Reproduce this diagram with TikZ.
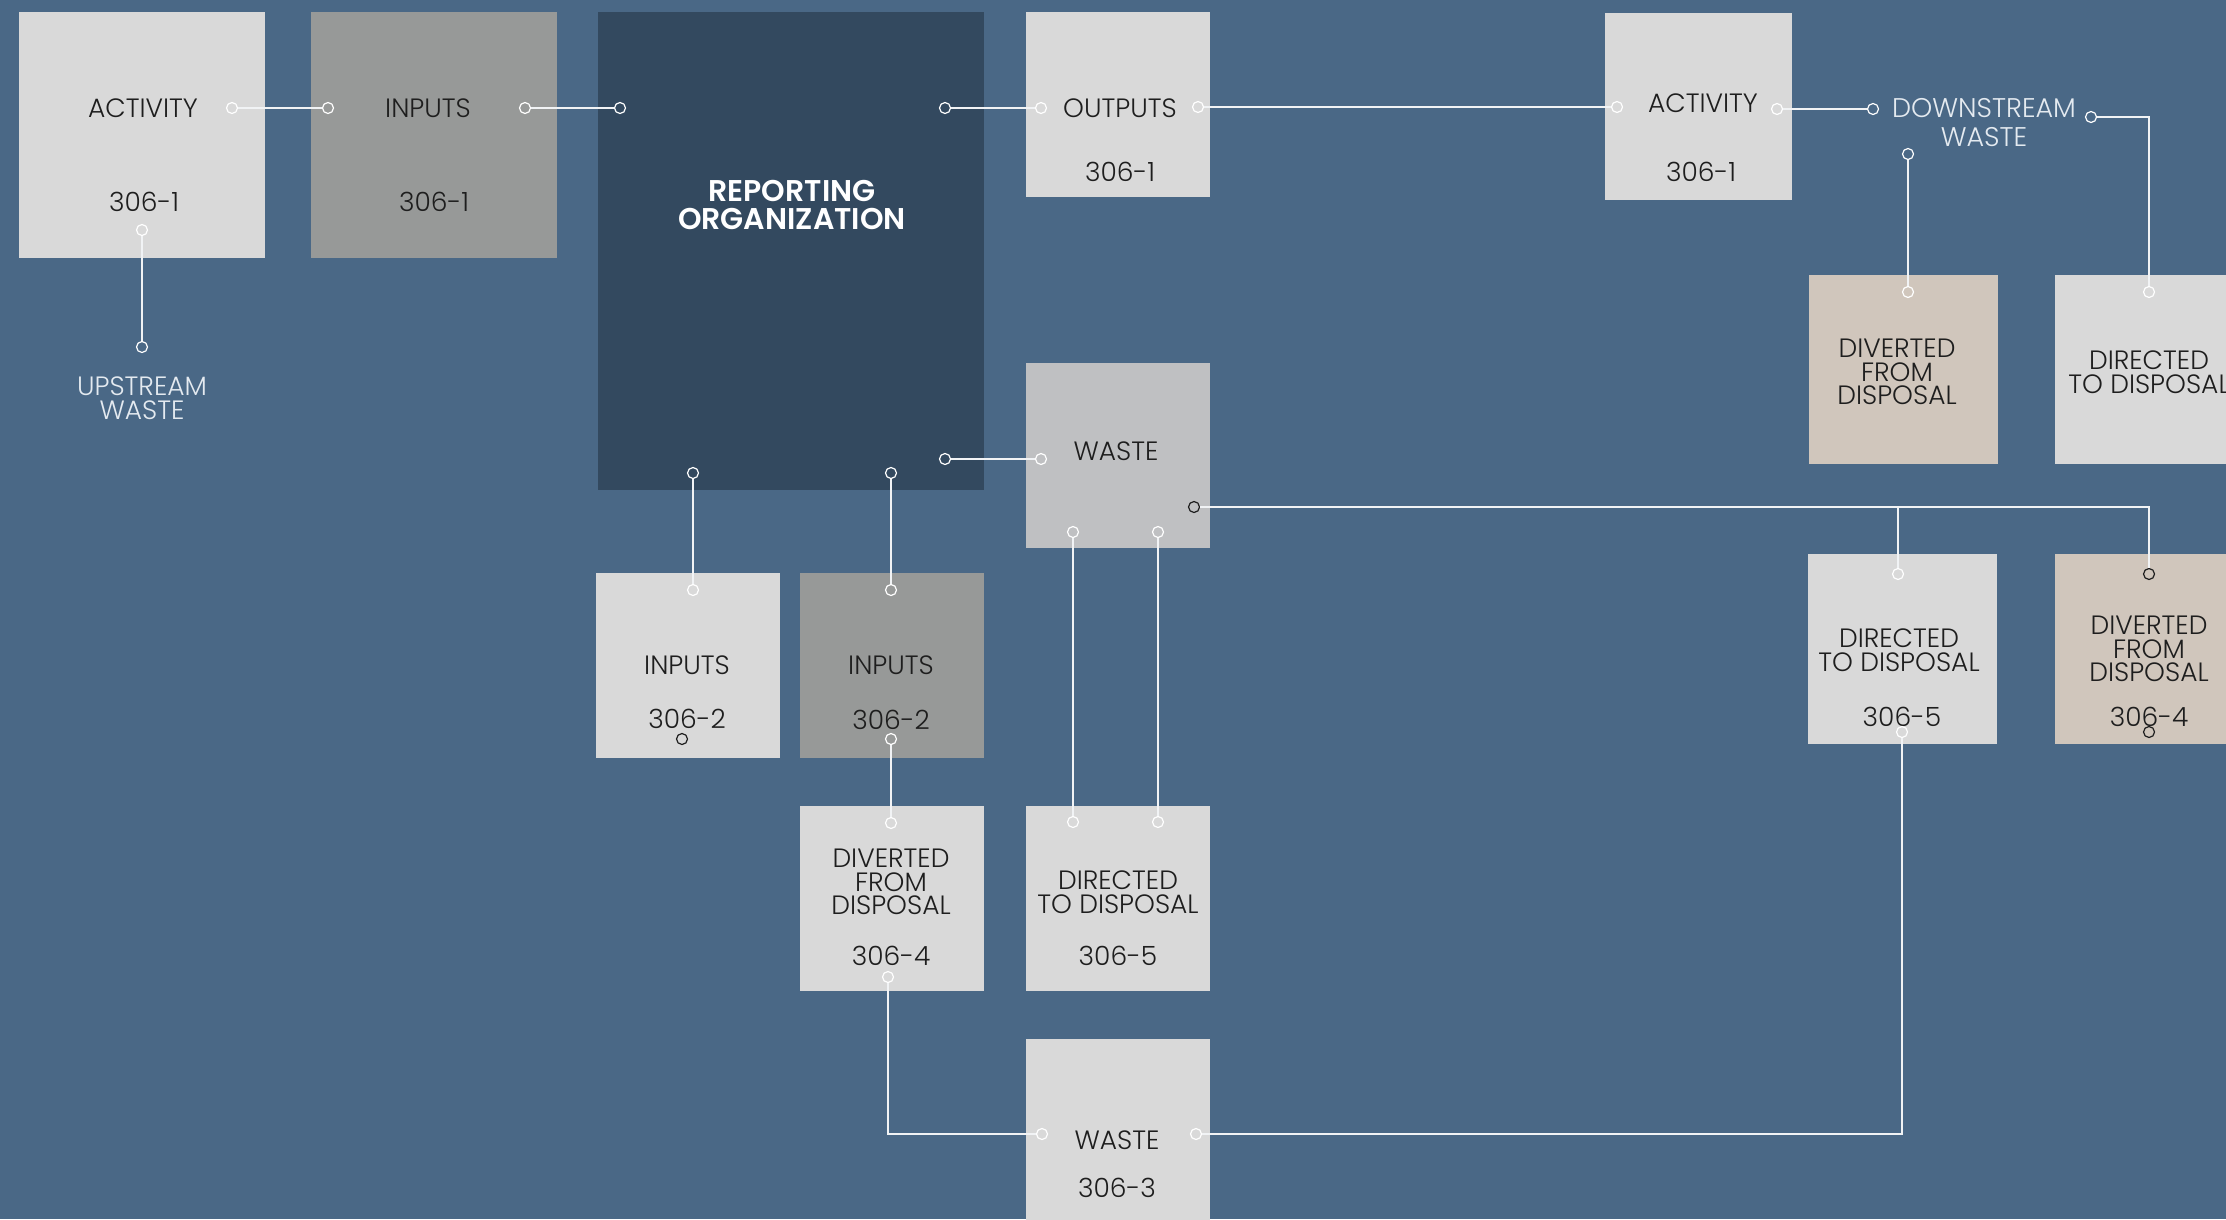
\documentclass[tikz,border=0pt]{standalone}
\usepackage{fontspec}
\setmainfont{Poppins}[UprightFont=* Light, BoldFont=* SemiBold]
\usepackage{xcolor}
\usetikzlibrary{arrows}
\definecolor{bg}{RGB}{74,104,134}
\definecolor{orgc}{RGB}{51,73,95}
\definecolor{light}{RGB}{217,217,217}
\definecolor{grey}{RGB}{151,153,152}
\definecolor{wastec}{RGB}{191,192,194}
\definecolor{beige}{RGB}{208,198,188}
\definecolor{ink}{RGB}{30,30,30}
\definecolor{pale}{RGB}{228,234,240}

\newcommand{\panel}[6]{\node[box, fill=#2, minimum width={#5-#3}, minimum height={#6-#4}, anchor=north west] (#1) at (#3,#4) {};}

\begin{document}
\begin{tikzpicture}[x=1pt, y=-1pt,
    box/.style={rectangle, inner sep=0pt, outer sep=0pt},
    txt/.style={inner sep=0pt, align=center, text=ink, font=\fontsize{26.5}{23.5}\selectfont},
    ptxt/.style={txt, text=pale},
    port/.style={circle, draw=white, line width=1.2pt, inner sep=0pt, minimum size=11pt},
    dport/.style={port, draw=ink},
    wire/.style={draw=white!92!bg, line width=1.2pt}]
    \fill[bg] (0,0) rectangle (2226,1219);
    \useasboundingbox (0,0) rectangle (2226,1219);

    \panel{act1}{light}{19}{12}{265}{258}
    \panel{inp1}{grey}{311}{12}{557}{258}
    \panel{org}{orgc}{598}{12}{984}{490}
    \panel{out1}{light}{1026}{12}{1210}{197}
    \panel{wst}{wastec}{1026}{363}{1210}{548}
    \panel{inp2a}{light}{596}{573}{780}{758}
    \panel{inp2b}{grey}{800}{573}{984}{758}
    \panel{div4}{light}{800}{806}{984}{991}
    \panel{dir5}{light}{1026}{806}{1210}{991}
    \panel{wst3}{light}{1026}{1039}{1210}{1225}
    \panel{act2}{light}{1605}{13}{1792}{200}
    \panel{divd}{beige}{1809}{275}{1998}{464}
    \panel{dird}{light}{2055}{275}{2244}{464}
    \panel{dir5b}{light}{1808}{554}{1997}{744}
    \panel{div4b}{beige}{2055}{554}{2244}{744}

    \node[txt] (act1a) at (143,108) {ACTIVITY};
    \node[txt] (act1b) at (144,202) {306-1};
    \node[txt] (inp1a) at (428,108) {INPUTS};
    \node[txt] (inp1b) at (434,202) {306-1};
    \node[txt, text=white, font=\fontsize{30}{28.5}\selectfont\bfseries] (orga) at (792,205) {REPORTING\\ORGANIZATION};
    \node[txt] (out1a) at (1120,108) {OUTPUTS};
    \node[txt] (out1b) at (1120,172) {306-1};
    \node[txt] (wsta) at (1116,451) {WASTE};
    \node[txt] (inp2aa) at (687,665) {INPUTS};
    \node[txt] (inp2ab) at (687,719) {306-2};
    \node[txt] (inp2ba) at (891,665) {INPUTS};
    \node[txt] (inp2bb) at (891,720) {306-2};
    \node[txt] (div4a) at (891,882) {DIVERTED\\FROM\\DISPOSAL};
    \node[txt] (div4n) at (891,956) {306-4};
    \node[txt] (dir5a) at (1118,892) {DIRECTED\\TO DISPOSAL};
    \node[txt] (dir5n) at (1118,956) {306-5};
    \node[txt] (wst3a) at (1117,1140) {WASTE};
    \node[txt] (wst3b) at (1117,1188) {306-3};
    \node[txt] (act2a) at (1703,103) {ACTIVITY};
    \node[txt] (act2b) at (1701,172) {306-1};
    \node[ptxt, font=\fontsize{27}{29}\selectfont] (dstxt) at (1984,123) {DOWNSTREAM\\WASTE};
    \node[ptxt] (uptxt) at (142,398) {UPSTREAM\\WASTE};
    \node[txt] (divda) at (1897,372) {DIVERTED\\FROM\\DISPOSAL};
    \node[txt] (dirda) at (2149,372) {DIRECTED\\TO DISPOSAL};
    \node[txt] (dir5ba) at (1899,650) {DIRECTED\\TO DISPOSAL};
    \node[txt] (dir5bn) at (1902,717) {306-5};
    \node[txt] (div4ba) at (2149,649) {DIVERTED\\FROM\\DISPOSAL};
    \node[txt] (div4bn) at (2149,717) {306-4};

    \node[port] (a1r) at (232,108) {};
    \node[port] (a1b) at (142,230) {};
    \node[port] (upt) at (142,347) {};
    \node[port] (i1l) at (328,108) {};
    \node[port] (i1r) at (525,108) {};
    \node[port] (orgl) at (620,108) {};
    \node[port] (orgr) at (945,108) {};
    \node[port] (orgw) at (945,459) {};
    \node[port] (orgb1) at (693,473) {};
    \node[port] (orgb2) at (891,473) {};
    \node[port] (o1l) at (1041,108) {};
    \node[port] (o1r) at (1198,107) {};
    \node[port] (wl) at (1041,459) {};
    \node[dport] (wr) at (1194,507) {};
    \node[port] (wb1) at (1073,532) {};
    \node[port] (wb2) at (1158,532) {};
    \node[port] (i2at) at (693,590) {};
    \node[dport] (i2ab) at (682,739) {};
    \node[port] (i2bt) at (891,590) {};
    \node[port] (i2bb) at (891,739) {};
    \node[port] (d4t) at (891,823) {};
    \node[port] (d4b) at (888,977) {};
    \node[port] (d5t1) at (1073,822) {};
    \node[port] (d5t2) at (1158,822) {};
    \node[port] (w3l) at (1042,1134) {};
    \node[port] (w3r) at (1196,1134) {};
    \node[port] (a2l) at (1617,107) {};
    \node[port] (a2r) at (1777,109) {};
    \node[port] (dsl) at (1873,109) {};
    \node[port] (dsb) at (1908,154) {};
    \node[port] (dsr) at (2091,117) {};
    \node[port] (ddvt) at (1908,292) {};
    \node[port] (ddrt) at (2149,292) {};
    \node[port] (d5bt) at (1898,574) {};
    \node[port] (d5bb) at (1902,732) {};
    \node[dport] (d4bt) at (2149,574) {};
    \node[dport] (d4bb) at (2149,732) {};
    \coordinate (jn) at (d5bt |- wr);

    \draw[wire] (a1r) -- (i1l);
    \draw[wire] (i1r) -- (orgl);
    \draw[wire] (orgr) -- (o1l);
    \draw[wire] (o1r) -- (a2l);
    \draw[wire] (a2r) -- (dsl);
    \draw[wire] (a1b) -- (upt);
    \draw[wire] (orgw) -- (wl);
    \draw[wire] (orgb1) -- (i2at);
    \draw[wire] (orgb2) -- (i2bt);
    \draw[wire] (i2bb) -- (d4t);
    \draw[wire] (wb1) -- (d5t1);
    \draw[wire] (wb2) -- (d5t2);
    \draw[wire] (d4b) |- (w3l);
    \draw[wire] (w3r) -| (d5bb);
    \draw[wire] (wr) -| (d4bt);
    \draw[wire] (jn) -- (d5bt);
    \draw[wire] (dsb) -- (ddvt);
    \draw[wire] (dsr) -| (ddrt);
\end{tikzpicture}
\end{document}
